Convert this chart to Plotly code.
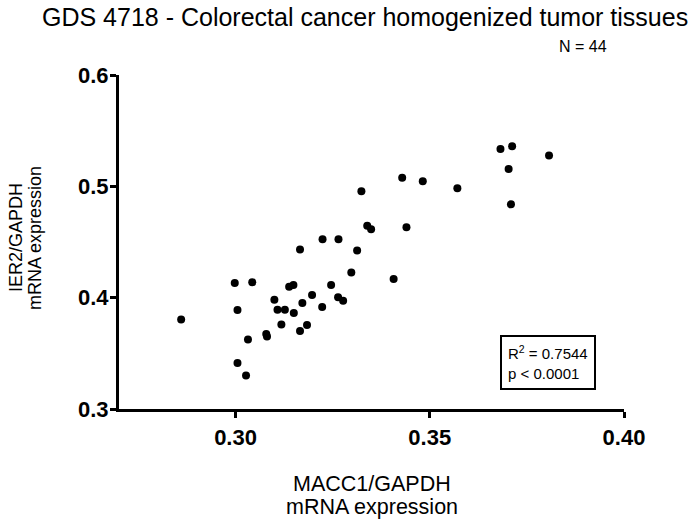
import plotly.graph_objects as go

# MACC1/GAPDH mRNA expression (x) vs IER2/GAPDH mRNA expression (y)
macc1 = [0.3429, 0.3482, 0.3571, 0.3682, 0.3712, 0.3807, 0.3703, 0.3709, 0.3440,
         0.3324, 0.3339, 0.3349, 0.3224, 0.3265, 0.3166, 0.3313, 0.3298, 0.3407,
         0.2998, 0.3043, 0.3138, 0.3149, 0.3246, 0.3197, 0.3100, 0.3172, 0.3264,
         0.3277, 0.3005, 0.3108, 0.3127, 0.3150, 0.3223, 0.2860, 0.3118, 0.3184,
         0.3166, 0.3079, 0.3081, 0.3032, 0.3005, 0.3027]
ier2 = [0.5078, 0.5045, 0.4982, 0.5336, 0.5360, 0.5277, 0.5156, 0.4838, 0.4633,
        0.4955, 0.4646, 0.4615, 0.4525, 0.4525, 0.4432, 0.4423, 0.4225, 0.4168,
        0.4132, 0.4138, 0.4099, 0.4114, 0.4114, 0.4024, 0.3982, 0.3952, 0.4003,
        0.3973, 0.3889, 0.3892, 0.3892, 0.3862, 0.3916, 0.3805, 0.3759, 0.3754,
        0.3700, 0.3673, 0.3651, 0.3624, 0.3414, 0.3300]

x_ticks = [0.30, 0.35, 0.40]
x_ticktext = ["0.30", "0.35", "0.40"]
y_ticks = [0.3, 0.4, 0.5, 0.6]
y_ticktext = ["0.3", "0.4", "0.5", "0.6"]

title_text = "GDS 4718 - Colorectal cancer homogenized tumor tissues"
n_text = "N = 44"
stats_text = "R<sup>2</sup> = 0.7544<br>p &lt; 0.0001"
x_title = ["MACC1/GAPDH", "mRNA expression"]
y_title = ["IER2/GAPDH", "mRNA expression"]

FONT = "Liberation Sans, Arial, Helvetica, sans-serif"

fig = go.Figure()
fig.add_trace(go.Scatter(
    x=macc1, y=ier2, mode="markers",
    marker=dict(color="black", size=8, line=dict(width=0)),
    cliponaxis=False, showlegend=False,
))

axis_common = dict(
    showline=True, linecolor="black", linewidth=3,
    ticks="outside", ticklen=6, tickwidth=3, tickcolor="black",
    showgrid=False, zeroline=False,
    tickfont=dict(family=FONT, size=22, color="black", weight="bold"),
)

fig.update_layout(
    width=694, height=523,
    margin=dict(l=119, r=70, t=75, b=114),
    plot_bgcolor="white", paper_bgcolor="white",
    xaxis=dict(range=[0.27, 0.40], tickvals=x_ticks, ticktext=x_ticktext,
               ticklabelstandoff=1, **axis_common),
    yaxis=dict(range=[0.3, 0.6], tickvals=y_ticks, ticktext=y_ticktext,
               ticklabelstandoff=-3, **axis_common),
    font=dict(family=FONT, color="black"),
)

ann = []
ann.append(dict(text=title_text, xref="paper", yref="paper", x=0.487, y=1.174,
                xanchor="center", yanchor="middle", showarrow=False,
                font=dict(size=25, family=FONT, color="black")))
ann.append(dict(text=n_text, xref="paper", yref="paper", x=0.919, y=1.084,
                xanchor="center", yanchor="middle", showarrow=False,
                font=dict(size=16, family=FONT, color="black")))
ann.append(dict(text=stats_text, xref="paper", yref="paper", x=0.850, y=0.140,
                xanchor="center", yanchor="middle", showarrow=False, align="left",
                bordercolor="black", borderwidth=2, borderpad=6, bgcolor="white",
                font=dict(size=15, family=FONT, color="black")))
# x-axis title lines
for i, t in enumerate(x_title):
    ann.append(dict(text=t, xref="paper", yref="paper", x=0.5,
                    y=(409 - (484 + 23 * i)) / 334.0,
                    xanchor="center", yanchor="middle", showarrow=False,
                    font=dict(size=21.5, family=FONT, color="black")))
# y-axis title lines
for i, t in enumerate(y_title):
    ann.append(dict(text=t, xref="paper", yref="paper",
                    x=(16 + 19 * i - 119) / 505.0, y=(409 - 238) / 334.0,
                    xanchor="center", yanchor="middle", showarrow=False,
                    textangle=-90,
                    font=dict(size=18, family=FONT, color="black")))
fig.update_layout(annotations=ann)

fig.write_html("out.html")
